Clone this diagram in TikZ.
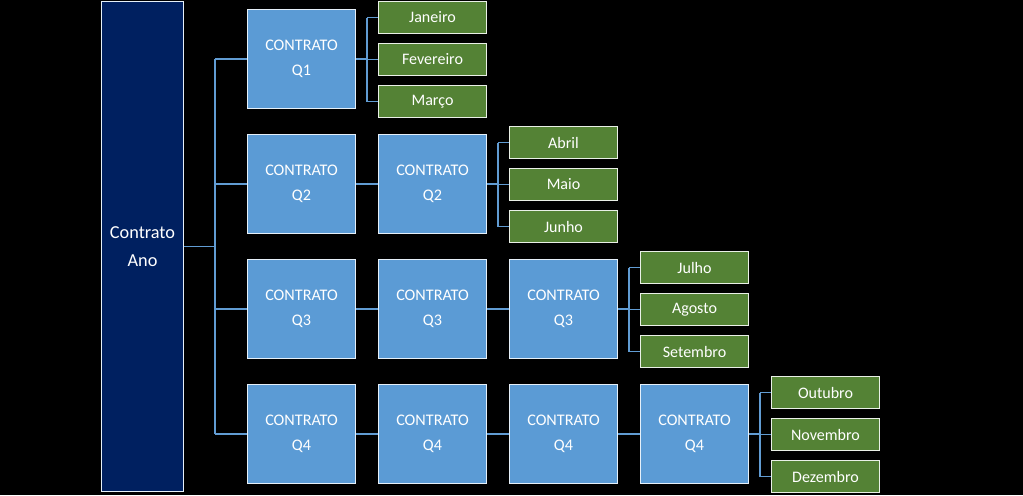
\documentclass[tikz,border=0pt]{standalone}
\usepackage{fontspec}
\setmainfont{Carlito}
\usepackage{tikz}
\definecolor{navy}{RGB}{0,32,96}
\definecolor{qblue}{RGB}{91,155,213}
\definecolor{mgreen}{RGB}{84,130,53}
\definecolor{wire}{RGB}{97,156,211}

\begin{document}
\begin{tikzpicture}[x=0.025cm,y=-0.025cm,
  anobox/.style={draw=white!85!qblue,fill=navy,text=white,line width=0.7pt,
     anchor=north west,inner sep=0pt,align=center,
     minimum width=2.05cm,minimum height=12.25cm,
     font=\fontsize{13}{20}\selectfont},
  qbox/.style={draw=white!85!qblue,fill=qblue,text=white,line width=0.7pt,
     anchor=north west,inner sep=0pt,align=center,
     minimum width=2.7cm,minimum height=2.475cm,
     font=\fontsize{11.5}{17.7}\selectfont},
  mbox/.style={draw=white!88!mgreen,fill=mgreen,text=white,line width=0.7pt,
     anchor=north west,inner sep=0pt,
     minimum width=2.7cm,minimum height=0.8cm,
     font=\fontsize{11.4}{13}\selectfont},
  link/.style={wire,line width=0.9pt}]
  \fill[black] (0,0) rectangle (1023,495);
  \node[anobox] (ano) at (101,1) {Contrato\\Ano};
  \coordinate (bus) at (215,0);
  \foreach \r/\yt in {1/9,2/134,3/259,4/384}{
     \foreach \c in {1,...,\r}{
        \pgfmathsetmacro{\xl}{247+(\c-1)*131}
        \node[qbox] (c\r\c) at (\xl,\yt) {CONTRATO\\Q\r};
     }
  }
  \foreach \r/\ma/\mb/\mc in {%
     1/Janeiro/Fevereiro/Março,
     2/Abril/Maio/Junho,
     3/Julho/Agosto/Setembro,
     4/Outubro/Novembro/Dezembro}{
     \pgfmathsetmacro{\xl}{247+\r*131}
     \pgfmathsetmacro{\yt}{9+(\r-1)*125-8}
     \node[mbox] (m\r1) at (\xl,\yt) {\ma};
     \node[mbox] (m\r2) at (\xl,\yt+42) {\mb};
     \node[mbox] (m\r3) at (\xl,\yt+84) {\mc};
     \coordinate (t\r) at ([xshift=0.275cm]c\r\r.east);
     \draw[link] (c\r\r.east) -- (t\r);
     \draw[link] (t\r |- m\r1.west) -- (t\r |- m\r3.west);
     \foreach \k in {1,2,3}
        \draw[link] (t\r |- m\r\k.west) -- (m\r\k.west);
     \draw[link] (bus |- c\r1.west) -- (c\r1.west);
  }
  \draw[link] (ano.east) -- (ano.east -| bus);
  \draw[link] (bus |- c11.west) -- (bus |- c41.west);
  % chains of contracts
  \draw[link] (c22.west) -- (c21.east);
  \draw[link] (c31.east) -- (c32.west) (c32.east) -- (c33.west);
  \draw[link] (c41.east) -- (c42.west) (c42.east) -- (c43.west)
     (c43.east) -- (c44.west);
\end{tikzpicture}
\end{document}
